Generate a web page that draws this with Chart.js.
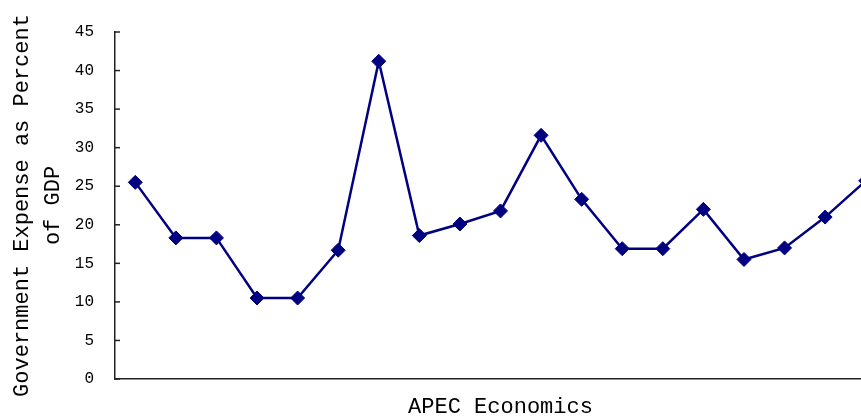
<!DOCTYPE html>
<html>
<head>
<meta charset="utf-8">
<script src="https://cdn.jsdelivr.net/npm/chart.js@4.4.0/dist/chart.umd.min.js"></script>
<style>
  html, body { margin: 0; padding: 0; background: #fff; overflow: hidden; }
  #wrap { width: 861px; height: 418px; overflow: hidden; }
  canvas { display: block; }
</style>
</head>
<body>
<div id="wrap"><canvas id="gdpChart" width="894" height="418"></canvas></div>
<script>
const economies = ['1', '2', '3', '4', '5', '6', '7', '8', '9', '10',
                   '11', '12', '13', '14', '15', '16', '17', '18', '19'];
const expenseShare = [25.5, 18.3, 18.3, 10.5, 10.5, 16.7, 41.2, 18.6, 20.1, 21.8,
                      31.6, 23.3, 16.9, 16.9, 22.0, 15.5, 17.0, 21.0, 25.7];
const yAxisTitle = ['Government Expense as Percent', 'of GDP'];
const xAxisTitle = 'APEC Economics';

const monoFont = "'Liberation Mono', 'DejaVu Sans Mono', monospace";

// small tick marks pointing into the plot, as in the original
const innerTicks = {
    id: 'innerTicks',
    afterDraw(chart) {
        const y = chart.scales.y;
        const ctx = chart.ctx;
        ctx.save();
        ctx.strokeStyle = '#222';
        ctx.lineWidth = 1.5;
        y.ticks.forEach((t, i) => {
            const py = y.getPixelForTick(i);
            ctx.beginPath();
            ctx.moveTo(y.right, py);
            ctx.lineTo(y.right + 5, py);
            ctx.stroke();
        });
        ctx.restore();
    }
};

const ctx = document.getElementById('gdpChart').getContext('2d');
new Chart(ctx, {
    type: 'line',
    data: {
        labels: economies,
        datasets: [{
            data: expenseShare,
            borderColor: '#000080',
            backgroundColor: '#000080',
            borderWidth: 2.5,
            pointStyle: 'rectRot',
            pointRadius: 7,
            pointBorderWidth: 1,
            fill: false,
            tension: 0
        }]
    },
    options: {
        responsive: false,
        animation: false,
        layout: { padding: { top: 32, right: 0, bottom: 0, left: 0 } },
        plugins: {
            legend: { display: false },
            tooltip: { enabled: false }
        },
        scales: {
            x: {
                offset: true,
                grid: { display: false },
                border: { display: true, color: '#222', width: 1.5 },
                ticks: { display: false },
                title: {
                    display: true,
                    text: xAxisTitle,
                    color: '#000',
                    padding: 0,
                    font: { family: monoFont, size: 22, lineHeight: 1.0 }
                },
                afterFit(scale) { scale.height = 39; }
            },
            y: {
                min: 0,
                max: 45,
                grid: { display: false },
                border: { display: true, color: '#222', width: 1.5 },
                ticks: {
                    stepSize: 5,
                    padding: 13,
                    color: '#000',
                    font: { family: monoFont, size: 16 }
                },
                title: {
                    display: true,
                    text: yAxisTitle,
                    color: '#000',
                    padding: { top: 7, bottom: 0 },
                    font: { family: monoFont, size: 22, lineHeight: 1.4 }
                },
                afterFit(scale) { scale.width = 115; }
            }
        }
    },
    plugins: [innerTicks]
});
</script>
</body>
</html>
